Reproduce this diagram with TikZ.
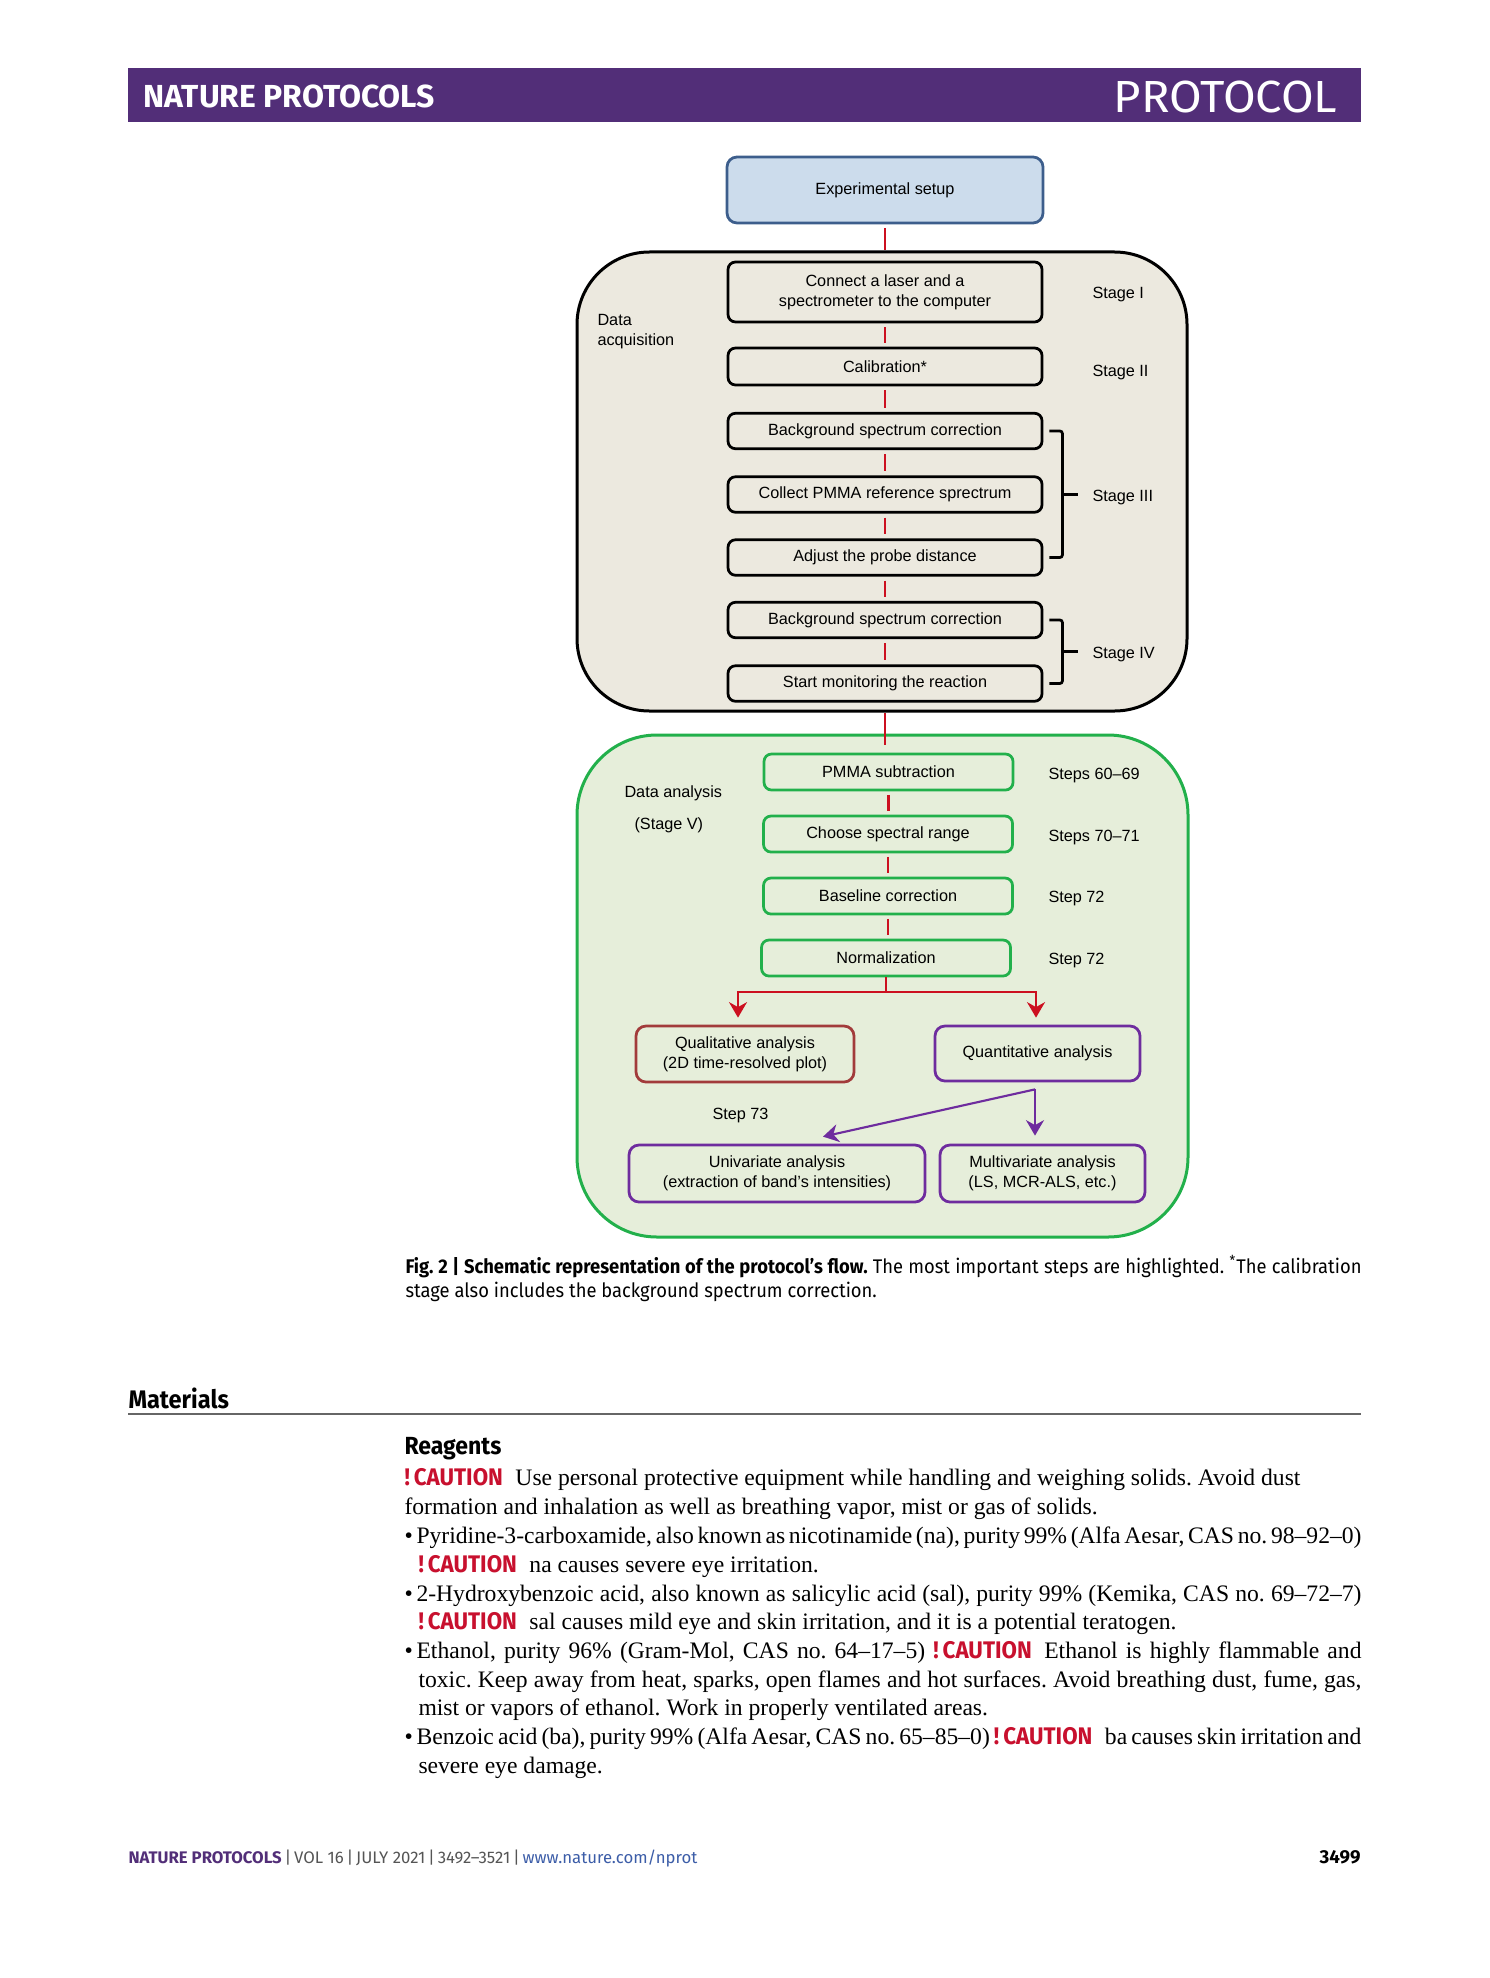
\documentclass[tikz,border=0pt]{standalone}
\usepackage{fontspec}
\setmainfont{Liberation Serif}
\newfontfamily\dfam{Liberation Sans}
\newfontfamily\firaf{Fira Sans}
\newfontfamily\condf[FakeStretch=0.93]{Fira Sans}
\newfontfamily\widef[FakeStretch=1.05]{Fira Sans}
\usetikzlibrary{arrows.meta,calc}
\frenchspacing
\definecolor{hdr}{HTML}{522E78}
\definecolor{expfill}{HTML}{CCDCEC}
\definecolor{expblue}{HTML}{3D5E8C}
\definecolor{dafill}{HTML}{ECE9DF}
\definecolor{grn}{HTML}{22B04B}
\definecolor{grnfill}{HTML}{E6EEDA}
\definecolor{conred}{HTML}{CC1020}
\definecolor{qualred}{HTML}{A23B3B}
\definecolor{purp}{HTML}{6E2C9E}
\definecolor{cautred}{HTML}{C8102E}
\definecolor{footgray}{HTML}{555555}
\definecolor{urlblue}{HTML}{3C5DA8}
\definecolor{rulegray}{HTML}{666666}
\newcommand\caut{\textcolor{cautred}{\condf\bfseries\fontsize{9.6}{11.5}\selectfont !\,CAUTION}}
\newcommand\bodyf{\fontsize{9.45}{11.5}\selectfont}
\newcommand\jline[2]{\makebox[#1][s]{\frenchspacing\spaceskip=0.21em plus 0.4em minus 0.06em #2}}
\begin{document}
\begin{tikzpicture}[x=0.4pt,y=-0.4pt,
  dfont/.style={font=\dfam\fontsize{6.5}{8}\selectfont},
  sbox/.style={dfont, draw=black, line width=1.1pt, rounded corners=3pt, minimum width=125.6pt, minimum height=14.2pt, inner sep=0pt, align=center},
  gbox/.style={dfont, draw=grn, line width=1.1pt, rounded corners=3pt, minimum width=99.6pt, minimum height=14.4pt, inner sep=0pt, align=center},
  pbox/.style={dfont, draw=purp, line width=1.1pt, rounded corners=4pt, inner sep=0pt, align=center},
  rcon/.style={draw=conred, line width=0.85pt},
  pcon/.style={draw=purp, line width=0.85pt},
  tip/.style={-{Stealth[length=6.2pt,width=7.2pt,inset=2pt]}},
  brc/.style={draw=black, line width=1.1pt, rounded corners=1pt},
  lbl/.style={dfont, anchor=west, inner sep=0pt, align=left},
  bline/.style={anchor=base west, inner sep=0pt, font=\bodyf\frenchspacing},
  capline/.style={anchor=base west, inner sep=0pt, font=\condf\fontsize{7.9}{9.5}\selectfont\frenchspacing}
]
\useasboundingbox[fill=white] (0,0) rectangle (1489,1978);

% header
\fill[hdr] (128,68) rectangle (1361,122);
\node[anchor=base west, inner sep=0pt, text=white, font=\firaf\bfseries\fontsize{12.75}{14}\selectfont] (hl) at (143,108) {NATURE PROTOCOLS};
\node[anchor=base east, inner sep=0pt, text=white, font=\widef\fontsize{18}{20}\selectfont] (hr) at (1338,113) {PROTOCOL};

% experimental setup
\node[dfont, draw=expblue, fill=expfill, line width=1.1pt, rounded corners=4pt, minimum width=126.4pt, minimum height=26.4pt] (exp) at (885,190) {Experimental setup};

% data acquisition
\node[draw=black, fill=dafill, line width=1.2pt, rounded corners=29pt, minimum width=244pt, minimum height=183.6pt] (da) at (882,481.5) {};
\node[sbox, minimum height=24pt] (b1) at (885,292) {Connect a laser and a\\spectrometer to the computer};
\node[sbox, minimum height=14.8pt] (b2) at (885,366.5) {Calibration*};
\node[sbox] (b3) at (885,431) {Background spectrum correction};
\node[sbox] (b4) at (885,494.5) {Collect PMMA reference sprectrum};
\node[sbox] (b5) at (885,557.5) {Adjust the probe distance};
\node[sbox] (b6) at (885,620) {Background spectrum correction};
\node[sbox] (b7) at (885,683.5) {Start monitoring the reaction};
\node[lbl] (dal) at (597,332) {Data\\acquisition};
\node[lbl] (s1) at (1092,295) {Stage I};
\node[lbl] (s2) at (1092,373) {Stage II};
\node[lbl] (s3) at (1092,498) {Stage III};
\node[lbl] (s4) at (1092,655) {Stage IV};

\draw[brc] ($(b3.east)+(6,0)$) -- ++(13,0) |- ($(b5.east)+(6,0)$);
\draw[brc] ($(b4.east)+(19,0)$) -- ++(16,0);
\draw[brc] ($(b6.east)+(6,0)$) -- ++(13,0) |- ($(b7.east)+(6,0)$);
\draw[brc] ($(b6.east)!0.5!(b7.east)+(19,0)$) -- ++(16,0);

% data analysis
\node[draw=grn, fill=grnfill, line width=1.2pt, rounded corners=32pt, minimum width=244.4pt, minimum height=200.8pt] (dan) at (882.5,986) {};
\node[gbox] (g1) at (888.5,772) {PMMA subtraction};
\node[gbox] (g2) at (888,834) {Choose spectral range};
\node[gbox] (g3) at (888,896) {Baseline correction};
\node[gbox] (g4) at (886,958) {Normalization};
\node[lbl] (danl) at (624,793) {Data analysis};
\node[lbl] (stv) at (634,825) {(Stage V)};
\node[lbl] (st1) at (1048,776) {Steps 60–69};
\node[lbl] (st2) at (1048,838) {Steps 70–71};
\node[lbl] (st3) at (1048,899) {Step 72};
\node[lbl] (st4) at (1048,961) {Step 72};

\node[dfont, draw=qualred, line width=1.1pt, rounded corners=4pt, inner sep=0pt, align=center, minimum width=87.2pt, minimum height=22.4pt] (qual) at (745,1054) {Qualitative analysis\\(2D time-resolved plot)};
\node[pbox, minimum width=82pt, minimum height=22pt] (quant) at (1037.5,1053.5) {Quantitative analysis};
\node[lbl] (st73) at (712,1116) {Step 73};
\node[pbox, minimum width=118.4pt, minimum height=22.8pt] (uni) at (777,1173.5) {Univariate analysis\\(extraction of band’s intensities)};
\node[pbox, minimum width=82pt, minimum height=22.8pt] (multi) at (1042.5,1173.5) {Multivariate analysis\\(LS, MCR-ALS, etc.)};

% connectors
\draw[rcon, shorten <=1.6pt, shorten >=4.4pt] (exp.south) -- (b1.north);
\foreach \a/\b in {b1/b2,b2/b3,b3/b4,b4/b5,b5/b6,b6/b7}
  \draw[rcon, shorten <=1.6pt, shorten >=1.6pt] (\a.south) -- (\b.north);
\draw[rcon, shorten <=4.2pt, shorten >=3pt] (b7.south) -- (b7.south |- g1.north);
\foreach \a/\b in {g1/g2,g2/g3,g3/g4}
  \draw[rcon, shorten <=1.4pt, shorten >=1.4pt] (\a.south) -- (\a.south |- \b.north);
\draw[rcon, tip, shorten >=2.8pt] (g4.south) -- ++(0,15) -| ($(qual.north)+(-7,0)$);
\draw[rcon, tip, shorten >=2.8pt] (g4.south) -- ++(0,15) -| ($(quant.north)+(-1.5,0)$);
\coordinate (qs) at ($(quant.south)+(-2.5,7)$);
\draw[pcon, tip, shorten >=3.2pt] (qs) -- (qs |- multi.north);
\draw[pcon, tip] (qs) -- ($(uni.north)+(46,-7)$);

% caption
\node[capline] (cap1) at (405,1273) {\makebox[382.4pt][s]{\textbf{Fig. 2 | Schematic representation of the protocol’s flow.} The most important steps are highlighted. \textsuperscript{*}The calibration}};
\node[capline] (cap2) at (405,1297) {stage also includes the background spectrum correction.};

% materials
\node[anchor=base west, inner sep=0pt, font=\condf\bfseries\fontsize{10.15}{12}\selectfont] (mat) at (128,1408) {Materials};
\draw[rulegray, line width=0.7pt] (128,1414) -- (1361,1414);
\node[anchor=base west, inner sep=0pt, font=\condf\bfseries\fontsize{9.9}{12}\selectfont] (rea) at (404,1454) {Reagents};

\node[bline] (l1) at (404,1485) {\caut\hspace{5pt}Use personal protective equipment while handling and weighing solids. Avoid dust};
\node[bline] (l2) at (404,1514) {formation and inhalation as well as breathing vapor, mist or gas of solids.};
\node[bline] (l3) at (404,1543) {\jline{382.8pt}{\textbullet\hspace{1.5pt}Pyridine-3-carboxamide, also known as nicotinamide (na), purity 99\% (Alfa Aesar, CAS no. 98–92–0)}};
\node[bline] (l4) at (418,1572) {\caut\hspace{5pt}na causes severe eye irritation.};
\node[bline] (l5) at (404,1601) {\jline{382.8pt}{\textbullet\hspace{1.5pt}2-Hydroxybenzoic acid, also known as salicylic acid (sal), purity 99\% (Kemika, CAS no. 69–72–7)}};
\node[bline] (l6) at (418,1629) {\caut\hspace{5pt}sal causes mild eye and skin irritation, and it is a potential teratogen.};
\node[bline] (l7) at (404,1658) {\jline{382.8pt}{\textbullet\hspace{1.5pt}Ethanol, purity 96\% (Gram-Mol, CAS no. 64–17–5) \caut\hspace{5pt}Ethanol is highly flammable and}};
\node[bline] (l8) at (418,1687) {\jline{377.2pt}{toxic. Keep away from heat, sparks, open flames and hot surfaces. Avoid breathing dust, fume, gas,}};
\node[bline] (l9) at (418,1715) {mist or vapors of ethanol. Work in properly ventilated areas.};
\node[bline] (l10) at (404,1744) {\jline{382.8pt}{\textbullet\hspace{1.5pt}Benzoic acid (ba), purity 99\% (Alfa Aesar, CAS no. 65–85–0) \caut\hspace{5pt}ba causes skin irritation and}};
\node[bline] (l11) at (418,1773) {severe eye damage.};

% footer
\node[anchor=base west, inner sep=0pt, font=\firaf\fontsize{6.7}{8}\selectfont] (foot) at (128,1863) {\textcolor{hdr}{\bfseries NATURE PROTOCOLS}\textcolor{footgray}{\,|\,VOL 16\,|\,JULY 2021\,|\,3492–3521\,|\,}\textcolor{urlblue}{www.nature.com/nprot}};
\node[anchor=base east, inner sep=0pt, font=\firaf\bfseries\fontsize{7.5}{9}\selectfont] (pg) at (1361,1863) {3499};
\end{tikzpicture}
\end{document}
